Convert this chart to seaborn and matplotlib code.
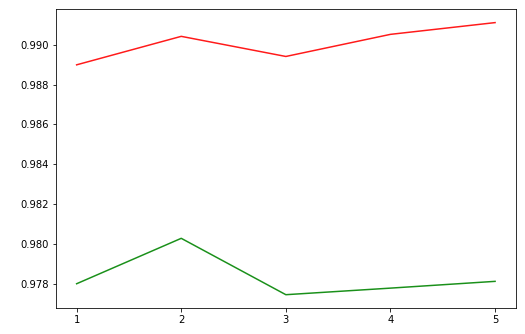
import matplotlib
matplotlib.use("Agg")
import matplotlib.pyplot as plt
import seaborn as sns

x = [1, 2, 3, 4, 5]
red_vals = [0.98899, 0.99042, 0.98941, 0.99052, 0.99111]
green_vals = [0.97800, 0.98028, 0.97745, 0.97778, 0.97812]

fig = plt.figure(figsize=(525 / 72, 334 / 72), dpi=72)
ax = fig.add_axes([55.7 / 525, 1 - 308.3 / 334, (516 - 55.7) / 525, (308.3 - 9) / 334])
sns.lineplot(x=x, y=red_vals, color="#ff1a1a", ax=ax, linewidth=1.5)
sns.lineplot(x=x, y=green_vals, color="#1a901a", ax=ax, linewidth=1.5)
ax.set_xticks(x)
ax.tick_params(labelsize=10)
fig.savefig("out.png", dpi=72)
